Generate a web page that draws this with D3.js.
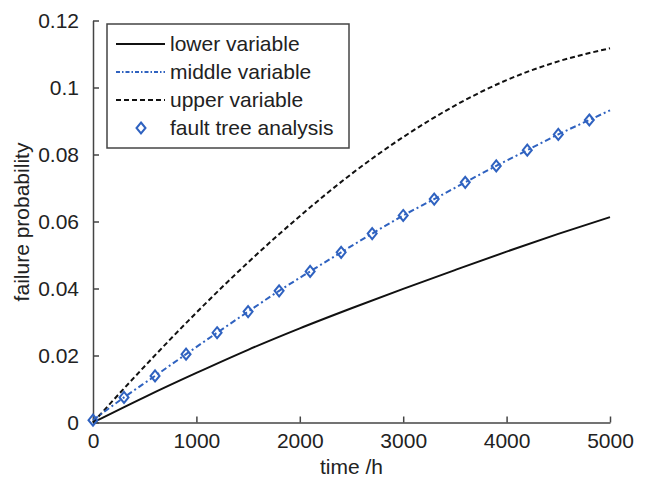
<!DOCTYPE html>
<html>
<head>
<meta charset="utf-8">
<script src="https://cdn.jsdelivr.net/npm/d3@7"></script>
<style>
  body { margin: 0; background: #fff; }
  text { font-family: "Liberation Sans", Arial, sans-serif; fill: #222; }
</style>
</head>
<body>
<div id="chart"></div>
<script>
// data
const timeGrid = [0, 500, 1000, 1500, 2000, 2500, 3000, 3500, 4000, 4500, 5000];
const lowerValues = [0, 0.0076, 0.0148, 0.0217, 0.0281, 0.0341, 0.0399, 0.0455, 0.0510, 0.0563, 0.0613];
const upperValues = [0, 0.0168, 0.0328, 0.0478, 0.0616, 0.0742, 0.0852, 0.0946, 0.1022, 0.1078, 0.1117];

const middleTimes = [0, 300, 600, 900, 1200, 1500, 1800, 2100, 2400, 2700, 3000, 3300, 3600, 3900, 4200, 4500, 4800, 5000];
const middleValues = [0.0007, 0.0075, 0.0139, 0.0204, 0.0268, 0.0331, 0.0393, 0.0451, 0.0508, 0.0564, 0.0618, 0.0667, 0.0717, 0.0766, 0.0813, 0.0860, 0.0903, 0.0932];

const ftaTimes = [0, 300, 600, 900, 1200, 1500, 1800, 2100, 2400, 2700, 3000, 3300, 3600, 3900, 4200, 4500, 4800];
const ftaValues = [0.0007, 0.0075, 0.0139, 0.0204, 0.0268, 0.0331, 0.0393, 0.0451, 0.0508, 0.0564, 0.0618, 0.0667, 0.0717, 0.0766, 0.0813, 0.0860, 0.0903];

const xTicks = [0, 1000, 2000, 3000, 4000, 5000];
const xTickLabels = ["0", "1000", "2000", "3000", "4000", "5000"];
const yTicks = [0, 0.02, 0.04, 0.06, 0.08, 0.1, 0.12];
const yTickLabels = ["0", "0.02", "0.04", "0.06", "0.08", "0.1", "0.12"];
const legendLabels = ["lower variable", "middle variable", "upper variable", "fault tree analysis"];

const width = 649, height = 479;
const blue = "#2f62c0";

const svg = d3.select("#chart")
  .append("svg")
  .attr("width", width)
  .attr("height", height);

const x = d3.scaleLinear().domain([0, 5000]).range([93, 610]);
const y = d3.scaleLinear().domain([0, 0.12]).range([422.5, 20.5]);

// axes (only left and bottom, ticks pointing inward)
const xAxis = d3.axisBottom(x).tickValues(xTicks).tickSizeInner(-6).tickSizeOuter(0).tickPadding(14)
  .tickFormat((d, i) => xTickLabels[i]);
const yAxis = d3.axisLeft(y).tickValues(yTicks).tickSizeInner(-6).tickSizeOuter(0).tickPadding(14)
  .tickFormat((d, i) => yTickLabels[i]);

const gx = svg.append("g").attr("transform", `translate(0,${y(0)})`).call(xAxis);
const gy = svg.append("g").attr("transform", `translate(${x(0)},0)`).call(yAxis);

[gx, gy].forEach(g => {
  g.select(".domain").attr("stroke", "#444").attr("stroke-width", 1.5);
  g.selectAll(".tick line").attr("stroke", "#444").attr("stroke-width", 1.5);
  g.selectAll(".tick text")
    .style("font-family", "Liberation Sans, Arial, sans-serif")
    .style("font-size", "21px")
    .attr("fill", "#222");
});
gx.selectAll(".tick text").attr("dy", "0.55em");
gy.selectAll(".tick text").attr("dy", "0.35em");

svg.append("text")
  .attr("x", (x(0) + x(5000)) / 2)
  .attr("y", 474)
  .attr("text-anchor", "middle")
  .style("font-size", "21px")
  .text("time /h");

svg.append("text")
  .attr("transform", "translate(29,222) rotate(-90)")
  .attr("text-anchor", "middle")
  .style("font-size", "21px")
  .text("failure probability");

// curves
const line = d3.line()
  .x(d => x(d[0]))
  .y(d => y(d[1]))
  .curve(d3.curveMonotoneX);

svg.append("path")
  .datum(timeGrid.map((t, i) => [t, lowerValues[i]]))
  .attr("d", line)
  .attr("fill", "none")
  .attr("stroke", "#111")
  .attr("stroke-width", 2);

svg.append("path")
  .datum(timeGrid.map((t, i) => [t, upperValues[i]]))
  .attr("d", line)
  .attr("fill", "none")
  .attr("stroke", "#111")
  .attr("stroke-width", 2)
  .attr("stroke-dasharray", "5,3");

svg.append("path")
  .datum(middleTimes.map((t, i) => [t, middleValues[i]]))
  .attr("d", line)
  .attr("fill", "none")
  .attr("stroke", blue)
  .attr("stroke-width", 2)
  .attr("stroke-dasharray", "6,3,2,3");

const diamond = "M0,-5.5L4.5,0L0,5.5L-4.5,0Z";

svg.selectAll(".fta")
  .data(ftaTimes.map((t, i) => [t, ftaValues[i]]))
  .join("path")
  .attr("class", "fta")
  .attr("transform", d => `translate(${x(d[0])},${y(d[1])})`)
  .attr("d", diamond)
  .attr("fill", "none")
  .attr("stroke", blue)
  .attr("stroke-width", 2);

// legend
const legend = svg.append("g");
legend.append("rect")
  .attr("x", 107)
  .attr("y", 24)
  .attr("width", 242)
  .attr("height", 124)
  .attr("fill", "#fff")
  .attr("stroke", "#444")
  .attr("stroke-width", 1.5);

const legendRows = [
  { dash: null, color: "#111", marker: false },
  { dash: "4,2,1.5,2", color: blue, marker: false },
  { dash: "5,3", color: "#111", marker: false },
  { dash: null, color: blue, marker: true }
];

legendRows.forEach((r, i) => {
  const yy = 44 + i * 28;
  if (r.marker) {
    legend.append("path")
      .attr("transform", `translate(141,${yy})`)
      .attr("d", diamond)
      .attr("fill", "none")
      .attr("stroke", blue)
      .attr("stroke-width", 2);
  } else {
    legend.append("line")
      .attr("x1", 116).attr("x2", 165)
      .attr("y1", yy).attr("y2", yy)
      .attr("stroke", r.color)
      .attr("stroke-width", 2)
      .attr("stroke-dasharray", r.dash);
  }
  legend.append("text")
    .attr("x", 170)
    .attr("y", yy)
    .attr("dy", "0.35em")
    .style("font-size", "21px")
    .text(legendLabels[i]);
});
</script>
</body>
</html>
